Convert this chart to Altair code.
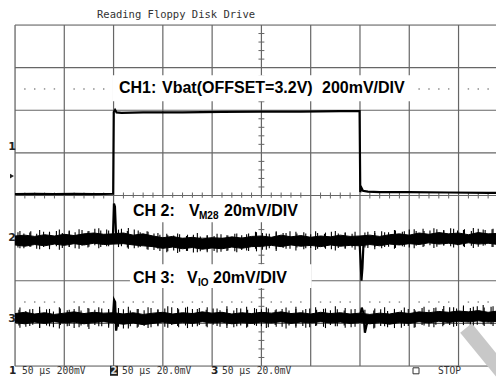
import altair as alt
import pandas as pd

# ---------------- data (time in µs, 50 µs/div; vertical in screen divisions) ----------
grid_t = [0, 50, 100, 150, 200, 250, 300, 350, 400, 450]
grid_y = [-4, -3, -2, -1, 0, 1, 2, 3, 4]
dot_levels = [2.5, -2.5]

ch1_t = [0, 20, 40, 60, 80, 99.6, 100.2, 101.5, 103, 108, 130, 170, 210, 250, 290, 330,
         349.6, 350.3, 351.5, 353, 358, 370, 400, 440, 480, 500]
ch1_y = [0.03, 0.04, 0.03, 0.04, 0.03, 0.04, 1.96, 2.01, 1.95, 1.94, 1.95, 1.95, 1.96,
         1.97, 1.97, 1.98, 1.98, 0.08, 0.18, 0.11, 0.09, 0.08, 0.08, 0.07, 0.06, 0.06]

env_t = [0, 10, 20, 30, 40, 50, 60, 70, 80, 90, 100, 110, 120, 130, 140, 150, 160, 170,
         180, 190, 200, 210, 220, 230, 240, 250, 260, 270, 280, 290, 300, 310, 320, 330,
         340, 350, 360, 370, 380, 390, 400, 410, 420, 430, 440, 450, 460, 470, 480, 490, 500]
ch2_hi = [-0.95, -0.93, -0.96, -0.92, -0.95, -0.91, -0.94, -0.90, -0.88, -0.91, -0.90,
          -0.88, -0.93, -0.90, -0.95, -0.99, -0.96, -1.01, -0.98, -1.02, -0.99, -1.01,
          -0.97, -1.00, -0.96, -0.95, -0.98, -0.93, -0.97, -0.94, -0.98, -0.95, -0.97,
          -0.93, -0.96, -0.95, -0.93, -0.96, -0.92, -0.90, -0.93, -0.88, -0.91, -0.87,
          -0.90, -0.88, -0.92, -0.87, -0.90, -0.89, -0.91]
ch2_lo = [-1.16, -1.19, -1.15, -1.18, -1.14, -1.17, -1.13, -1.16, -1.12, -1.15, -1.14,
          -1.13, -1.16, -1.18, -1.20, -1.24, -1.21, -1.25, -1.22, -1.26, -1.23, -1.25,
          -1.21, -1.24, -1.20, -1.19, -1.17, -1.20, -1.16, -1.19, -1.17, -1.20, -1.16,
          -1.19, -1.17, -1.18, -1.15, -1.18, -1.14, -1.16, -1.13, -1.15, -1.11, -1.14,
          -1.12, -1.15, -1.11, -1.14, -1.12, -1.15, -1.13]
ch3_hi = [-2.77, -2.74, -2.78, -2.75, -2.79, -2.76, -2.73, -2.77, -2.74, -2.76, -2.75,
          -2.78, -2.75, -2.79, -2.76, -2.74, -2.78, -2.75, -2.77, -2.73, -2.76, -2.74,
          -2.78, -2.75, -2.77, -2.74, -2.76, -2.73, -2.77, -2.75, -2.78, -2.74, -2.77,
          -2.75, -2.78, -2.76, -2.79, -2.76, -2.78, -2.74, -2.77, -2.73, -2.75, -2.72,
          -2.74, -2.71, -2.73, -2.70, -2.74, -2.71, -2.73]
ch3_lo = [-2.98, -3.01, -2.97, -3.00, -2.96, -2.99, -2.97, -3.01, -2.98, -2.96, -2.99,
          -3.02, -2.99, -3.03, -3.00, -2.97, -3.01, -2.98, -3.00, -2.96, -2.99, -2.97,
          -3.01, -2.98, -3.00, -2.97, -2.99, -2.96, -3.00, -2.97, -2.99, -2.96, -2.99,
          -2.97, -3.00, -2.98, -3.01, -2.98, -3.02, -2.98, -3.00, -2.96, -2.99, -2.95,
          -2.98, -2.95, -2.97, -2.94, -2.97, -2.95, -2.96]

ch2_sp_t = [3, 9, 16, 22, 29, 35, 42, 48, 55, 61, 68, 74, 81, 87, 93, 108, 114, 121, 127,
            134, 141, 147, 154, 161, 167, 174, 181, 188, 195, 202, 209, 216, 223, 230, 237,
            244, 251, 258, 265, 272, 279, 286, 293, 300, 307, 314, 321, 328, 335, 342, 358,
            365, 372, 379, 386, 393, 400, 407, 414, 421, 428, 435, 442, 449, 456, 463, 470,
            477, 484, 491]
ch2_sp_hi = [-0.86, -0.89, -0.84, -0.90, -0.85, -0.87, -0.83, -0.88, -0.82, -0.86, -0.81,
             -0.84, -0.78, -0.82, -0.80, -0.78, -0.83, -0.80, -0.86, -0.84, -0.89, -0.92,
             -0.90, -0.94, -0.91, -0.95, -0.92, -0.96, -0.93, -0.95, -0.91, -0.94, -0.90,
             -0.93, -0.89, -0.85, -0.88, -0.90, -0.86, -0.88, -0.84, -0.89, -0.86, -0.91,
             -0.88, -0.90, -0.85, -0.89, -0.86, -0.90, -0.85, -0.88, -0.84, -0.86, -0.82,
             -0.85, -0.80, -0.83, -0.78, -0.82, -0.79, -0.81, -0.77, -0.82, -0.79, -0.83,
             -0.78, -0.81, -0.79, -0.82]
ch2_sp_lo = [-1.22, -1.24, -1.20, -1.25, -1.21, -1.26, -1.19, -1.23, -1.20, -1.24, -1.18,
             -1.22, -1.17, -1.21, -1.19, -1.19, -1.22, -1.24, -1.21, -1.26, -1.28, -1.30,
             -1.33, -1.29, -1.32, -1.30, -1.34, -1.31, -1.33, -1.30, -1.32, -1.29, -1.31,
             -1.28, -1.30, -1.25, -1.27, -1.24, -1.26, -1.23, -1.25, -1.22, -1.26, -1.23,
             -1.25, -1.22, -1.26, -1.23, -1.25, -1.22, -1.23, -1.21, -1.24, -1.20, -1.23,
             -1.19, -1.22, -1.18, -1.21, -1.17, -1.20, -1.16, -1.19, -1.17, -1.21, -1.18,
             -1.20, -1.17, -1.21, -1.18]

ch3_sp_t = [4, 11, 18, 25, 32, 39, 46, 53, 60, 67, 74, 81, 88, 95, 110, 117, 124, 131, 138,
            145, 152, 159, 166, 173, 180, 187, 194, 201, 208, 215, 222, 229, 236, 243, 250,
            257, 264, 271, 278, 285, 292, 299, 306, 313, 320, 327, 334, 341, 364, 371, 378,
            385, 392, 399, 406, 413, 420, 427, 434, 441, 448, 455, 462, 469, 476, 483, 490]
ch3_sp_hi = [-2.68, -2.71, -2.66, -2.70, -2.67, -2.72, -2.65, -2.69, -2.66, -2.70, -2.64,
             -2.68, -2.65, -2.69, -2.67, -2.70, -2.66, -2.69, -2.64, -2.68, -2.65, -2.62,
             -2.67, -2.63, -2.66, -2.64, -2.68, -2.65, -2.69, -2.66, -2.70, -2.65, -2.68,
             -2.64, -2.67, -2.65, -2.69, -2.66, -2.70, -2.66, -2.69, -2.65, -2.68, -2.66,
             -2.69, -2.67, -2.70, -2.67, -2.70, -2.67, -2.71, -2.66, -2.69, -2.66, -2.70,
             -2.64, -2.68, -2.63, -2.66, -2.62, -2.65, -2.61, -2.64, -2.60, -2.63, -2.61,
             -2.64]
ch3_sp_lo = [-3.05, -3.08, -3.03, -3.10, -3.05, -3.09, -3.04, -3.07, -3.11, -3.05, -3.08,
             -3.04, -3.07, -3.05, -3.12, -3.07, -3.10, -3.06, -3.09, -3.05, -3.08, -3.04,
             -3.09, -3.05, -3.08, -3.04, -3.07, -3.03, -3.08, -3.05, -3.09, -3.05, -3.08,
             -3.04, -3.07, -3.09, -3.04, -3.08, -3.05, -3.10, -3.06, -3.09, -3.05, -3.08,
             -3.04, -3.07, -3.05, -3.09, -3.12, -3.06, -3.09, -3.05, -3.10, -3.06, -3.09,
             -3.04, -3.08, -3.03, -3.07, -3.04, -3.06, -3.02, -3.07, -3.03, -3.06, -3.02,
             -3.05]

# second set of noise spikes, between the first ones
sp2_t = [5, 15, 25, 35, 45, 55, 65, 75, 85, 95, 105, 115, 125, 135, 145, 155, 165, 175,
         185, 195, 205, 215, 225, 235, 245, 255, 265, 275, 285, 295, 305, 315, 325, 335,
         345, 355, 365, 375, 385, 395, 405, 415, 425, 435, 445, 455, 465, 475, 485, 495]
ch2_sp2_hi = [-0.83, -0.87, -0.81, -0.85, -0.80, -0.84, -0.79, -0.83, -0.77, -0.82, -0.80,
              -0.76, -0.82, -0.85, -0.88, -0.93, -0.89, -0.92, -0.88, -0.94, -0.90, -0.93,
              -0.89, -0.91, -0.86, -0.89, -0.84, -0.88, -0.85, -0.89, -0.84, -0.87, -0.83,
              -0.88, -0.85, -0.87, -0.83, -0.86, -0.81, -0.84, -0.79, -0.83, -0.77, -0.82,
              -0.78, -0.81, -0.76, -0.80, -0.78, -0.81]
ch2_sp2_lo = [-1.24, -1.20, -1.26, -1.22, -1.27, -1.21, -1.25, -1.20, -1.24, -1.19, -1.21,
              -1.25, -1.22, -1.27, -1.25, -1.31, -1.35, -1.30, -1.33, -1.29, -1.34, -1.30,
              -1.33, -1.29, -1.31, -1.27, -1.30, -1.25, -1.29, -1.24, -1.28, -1.25, -1.29,
              -1.24, -1.27, -1.22, -1.26, -1.21, -1.25, -1.20, -1.24, -1.19, -1.23, -1.18,
              -1.22, -1.19, -1.23, -1.18, -1.21, -1.19]
ch3_sp2_hi = [-2.63, -2.67, -2.61, -2.66, -2.62, -2.68, -2.60, -2.65, -2.62, -2.66, -2.64,
              -2.61, -2.66, -2.62, -2.67, -2.60, -2.64, -2.61, -2.66, -2.62, -2.65, -2.60,
              -2.64, -2.61, -2.66, -2.62, -2.67, -2.63, -2.61, -2.66, -2.62, -2.65, -2.60,
              -2.64, -2.66, -2.68, -2.65, -2.62, -2.67, -2.63, -2.66, -2.61, -2.64, -2.59,
              -2.62, -2.58, -2.61, -2.57, -2.60, -2.58]
ch3_sp2_lo = [-3.10, -3.06, -3.11, -3.07, -3.12, -3.06, -3.09, -3.13, -3.07, -3.10, -3.08,
              -3.12, -3.08, -3.11, -3.07, -3.10, -3.06, -3.11, -3.07, -3.09, -3.06, -3.11,
              -3.07, -3.10, -3.06, -3.11, -3.08, -3.12, -3.07, -3.10, -3.06, -3.11, -3.07,
              -3.10, -3.08, -3.12, -3.10, -3.07, -3.11, -3.06, -3.10, -3.05, -3.09, -3.04,
              -3.08, -3.04, -3.07, -3.03, -3.06, -3.04]

# transients at the edges of the CH1 pulse
ch2_tr_seg = ["a", "a", "a", "a", "a", "b", "b", "b", "b", "b"]
ch2_tr_t = [99.3, 100.4, 101.4, 102.4, 103.6, 349.5, 350.5, 351.5, 352.5, 353.6]
ch2_tr_y = [-1.00, -0.19, -0.26, -0.85, -1.02, -1.05, -1.50, -2.00, -1.70, -1.10]
ch3_tr_seg = ["a", "a", "a", "a", "a", "a", "b", "b", "b", "b", "b", "b"]
ch3_tr_t = [99.4, 100.5, 101.6, 102.6, 103.8, 105.5, 350.0, 351.8, 353.4, 355.0, 356.6, 358.5]
ch3_tr_y = [-2.85, -2.45, -2.50, -3.17, -3.00, -2.88, -2.85, -2.63, -2.75, -3.22, -3.05, -2.90]

# white label boxes (µs, div)
box_x1 = [99.0, 116.6, 116.6]
box_x2 = [405.7, 291.0, 301.0]
box_y1 = [2.82, -0.05, -1.61]
box_y2 = [2.21, -0.63, -2.17]

# ---------------- chart -----------------
W, H = 481, 341
OX, OY = 15, 25
xs = alt.Scale(domain=[0, 488], nice=False, zero=False)
ys = alt.Scale(domain=[-4, 4], nice=False, zero=False)
GRID = "#666666"
one = pd.DataFrame({"a": [0]})


def ry(y):
    # vertical position inside the screen area, following the vertical scale
    return OY + (y - 25) * H / 343.0


def X(f):
    return alt.X(f, scale=xs, axis=None)


def Y(f):
    return alt.Y(f, scale=ys, axis=None)


layers = []
layers.append(alt.Chart(pd.DataFrame({"t": grid_t})).mark_rule(color=GRID, strokeWidth=1.2)
              .encode(x=X("t:Q"), y=alt.value(0), y2=alt.value(H)))
layers.append(alt.Chart(pd.DataFrame({"v": grid_y})).mark_rule(color=GRID, strokeWidth=1.2)
              .encode(y=Y("v:Q"), x=alt.value(0), x2=alt.value(W)))

# minor ticks on centre lines
vt = [k / 5 for k in range(-19, 20) if k % 5 != 0]
layers.append(alt.Chart(pd.DataFrame({"y": vt, "a": [247] * len(vt), "b": [253] * len(vt)}))
              .mark_rule(color=GRID, strokeWidth=1).encode(x=X("a:Q"), x2="b:Q", y=Y("y:Q")))
ht = [k * 10 for k in range(0, 49) if k % 5 != 0]
layers.append(alt.Chart(pd.DataFrame({"t": ht, "a": [0.07] * len(ht), "b": [-0.07] * len(ht)}))
              .mark_rule(color=GRID, strokeWidth=1).encode(x=X("t:Q"), y=Y("a:Q"), y2="b:Q"))

# dotted reference lines
dots = pd.DataFrame([{"t": k * 10, "y": lv} for lv in dot_levels for k in range(0, 49) if k % 5 != 0])
layers.append(alt.Chart(dots).mark_square(size=2, color="#888888", opacity=1)
              .encode(x=X("t:Q"), y=Y("y:Q")))

# white label boxes
layers.append(alt.Chart(pd.DataFrame({"x1": box_x1, "x2": box_x2, "y1": box_y1, "y2": box_y2}))
              .mark_rect(color="white", opacity=1)
              .encode(x=X("x1:Q"), x2="x2:Q", y=Y("y1:Q"), y2="y2:Q"))

# noisy channels
for hi, lo, st, sh, sl, s2h, s2l, tt, ty, tg in [
        (ch2_hi, ch2_lo, ch2_sp_t, ch2_sp_hi, ch2_sp_lo, ch2_sp2_hi, ch2_sp2_lo,
         ch2_tr_t, ch2_tr_y, ch2_tr_seg),
        (ch3_hi, ch3_lo, ch3_sp_t, ch3_sp_hi, ch3_sp_lo, ch3_sp2_hi, ch3_sp2_lo,
         ch3_tr_t, ch3_tr_y, ch3_tr_seg)]:
    layers.append(alt.Chart(pd.DataFrame({"t": env_t, "hi": hi, "lo": lo}))
                  .mark_area(color="black", stroke="black", strokeWidth=1, clip=True, opacity=1)
                  .encode(x=X("t:Q"), y=Y("hi:Q"), y2="lo:Q"))
    layers.append(alt.Chart(pd.DataFrame({"t": st, "hi": sh, "lo": sl}))
                  .mark_rule(color="black", strokeWidth=1.1, clip=True)
                  .encode(x=X("t:Q"), y=Y("hi:Q"), y2="lo:Q"))
    layers.append(alt.Chart(pd.DataFrame({"t": sp2_t, "hi": s2h, "lo": s2l}))
                  .mark_rule(color="black", strokeWidth=1.1, clip=True)
                  .encode(x=X("t:Q"), y=Y("hi:Q"), y2="lo:Q"))
    layers.append(alt.Chart(pd.DataFrame({"t": tt, "y": ty, "s": tg}))
                  .mark_line(color="black", strokeWidth=2.2, clip=True)
                  .encode(x=X("t:Q"), y=Y("y:Q"), detail="s:N"))

# CH1 trace
layers.append(alt.Chart(pd.DataFrame({"t": ch1_t, "y": ch1_y}))
              .mark_line(color="black", strokeWidth=2.2, clip=True)
              .encode(x=X("t:Q"), y=Y("y:Q")))


def label(s, x, y, size=16, weight="bold", font="Liberation Sans", color="black", align="left"):
    return alt.Chart(one).mark_text(text=s, fontSize=size, fontWeight=weight, font=font,
                                    color=color, align=align, baseline="alphabetic").encode(
        x=alt.value(x - OX), y=alt.value(y - OY))


# channel labels
layers += [
    label("CH1:", 119, ry(93)), label("Vbat(OFFSET=3.2V)", 162, ry(93)), label("200mV/DIV", 322, ry(93)),
    label("CH 2:", 133, ry(217)), label("V", 189, ry(217)), label("M28", 199, ry(220), size=10),
    label("20mV/DIV", 224, ry(217)),
    label("CH 3:", 133, ry(285)), label("V", 187, ry(285)), label("IO", 198, ry(288), size=10),
    label("20mV/DIV", 213, ry(285)),
]

MONO = "DejaVu Sans Mono"
layers.append(label("Reading Floppy Disk Drive", 97, 18, size=10.5, weight="normal", font=MONO, color="#333333"))

# left channel markers
for s, yb in [("1", 151), ("2", 242), ("3", 324)]:
    layers.append(label(s, 12, ry(yb), size=11, font="DejaVu Sans", align="center", color="#222222"))
layers.append(alt.Chart(one).mark_point(shape="triangle-right", filled=True, size=22, color="#222222", opacity=1)
              .encode(x=alt.value(12 - OX), y=alt.value(ry(177) - OY)))

# bottom status line
BY = 374.3
FS = 9.6
layers += [
    label("1", 9, BY, size=10.5, font="DejaVu Sans", color="#222222"),
    label("50 µs 200mV", 22, BY, size=FS, weight="normal", font=MONO, color="#333333"),
    alt.Chart(one).mark_rect(color="#222222").encode(x=alt.value(110 - OX), x2=alt.value(118 - OX),
                                                      y=alt.value(BY - 8.5 - OY), y2=alt.value(BY + 1.5 - OY)),
    label("2", 114, BY, size=10, font="DejaVu Sans", color="#dddddd", align="center"),
    label("50 µs 20.0mV", 122, BY, size=FS, weight="normal", font=MONO, color="#333333"),
    label("3", 211, BY, size=10.5, font="DejaVu Sans", color="#222222"),
    label("50 µs 20.0mV", 222, BY, size=FS, weight="normal", font=MONO, color="#333333"),
    alt.Chart(one).mark_point(shape="square", filled=False, size=36, color="#333333", strokeWidth=1, opacity=1)
    .encode(x=alt.value(416 - OX), y=alt.value(BY - 3.5 - OY)),
    label("STOP", 438, BY, size=FS, weight="normal", font=MONO, color="#333333"),
]

# watermark stroke
layers.append(alt.Chart(one).mark_rule(color="#c8c8c8", strokeWidth=15, strokeCap="butt")
              .encode(x=alt.value(466 - OX), y=alt.value(328 - OY), x2=alt.value(515 - OX), y2=alt.value(388 - OY)))

chart = alt.layer(*layers).properties(
    width=W, height=H,
    padding={"left": OX - 8, "top": OY - 8, "right": 0, "bottom": 11},
    autosize=alt.AutoSizeParams(type="none"),
).configure_view(stroke=None).configure(background="white")

chart.save("out.html", embed_options={"renderer": "svg", "actions": False})
